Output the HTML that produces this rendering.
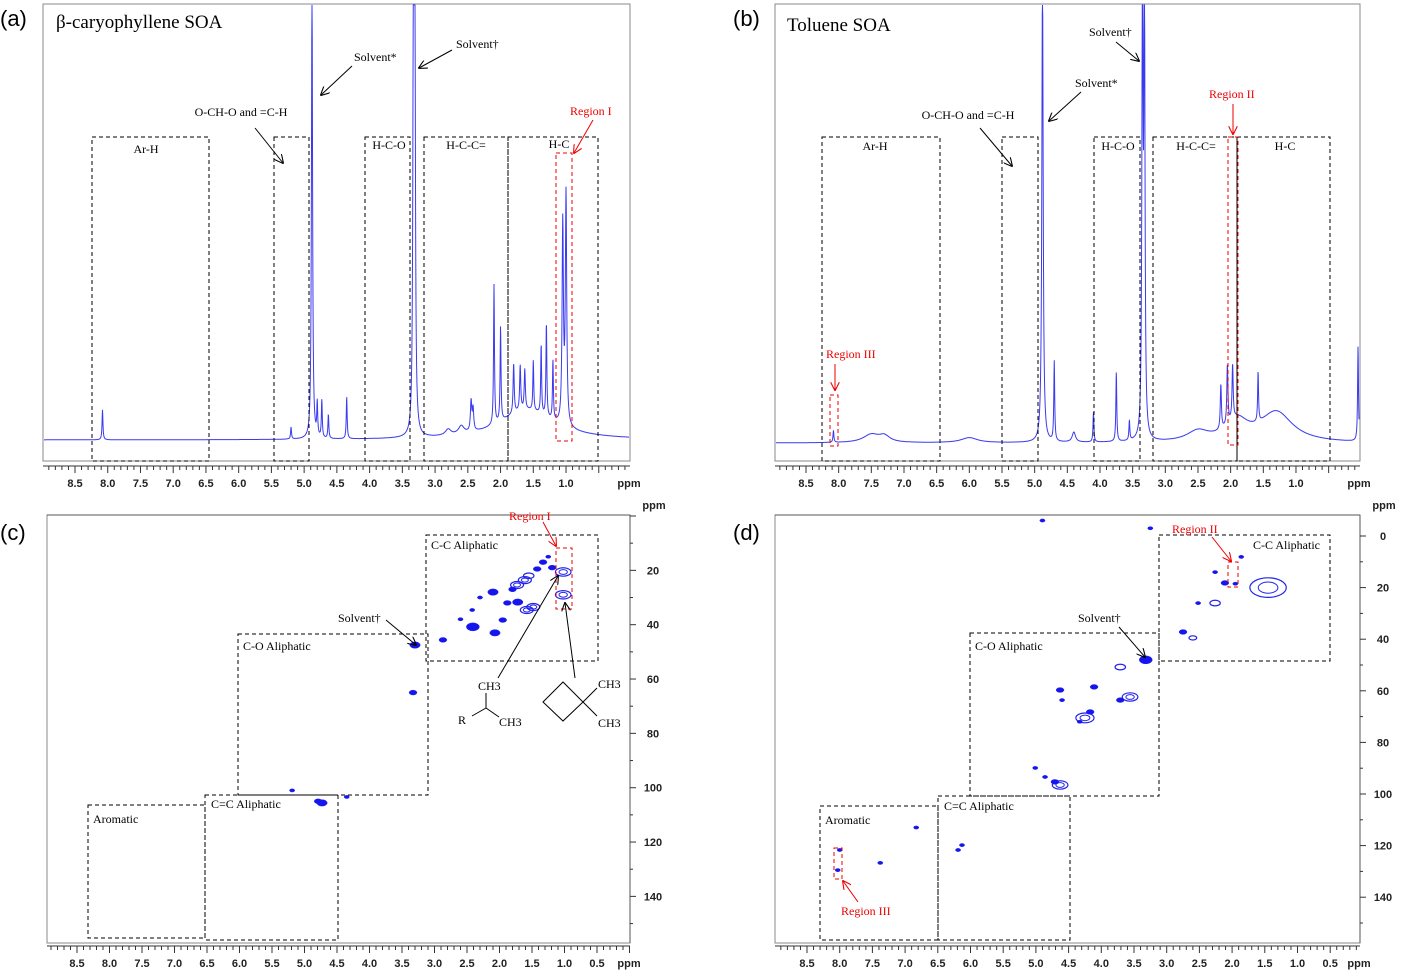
<!DOCTYPE html>
<html><head><meta charset="utf-8">
<style>
html,body{margin:0;padding:0;background:#fff;}
svg{display:block;}
.ser{font-family:"Liberation Serif",serif;font-size:12px;fill:#000;}
.ttl{font-family:"Liberation Serif",serif;font-size:19px;fill:#000;}
.tick{font-family:"Liberation Sans",sans-serif;font-size:11px;font-weight:bold;fill:#222;text-anchor:middle;}
.plab{font-family:"Liberation Sans",sans-serif;font-size:22px;fill:#000;}
.red{fill:#e00;}
</style></head>
<body>
<svg id="fig" width="1401" height="970" viewBox="0 0 1401 970" xmlns="http://www.w3.org/2000/svg">
<defs>
<marker id="arr" viewBox="0 0 10 10" refX="9" refY="5" markerWidth="9" markerHeight="9" orient="auto"><path d="M0,0 L10,5 L0,10" fill="none" stroke="#000" stroke-width="1.2"/></marker>
<marker id="arrR" viewBox="0 0 10 10" refX="9" refY="5" markerWidth="9" markerHeight="9" orient="auto"><path d="M0,0 L10,5 L0,10" fill="none" stroke="#e00" stroke-width="1.2"/></marker>
</defs>
<g id="layer"></g>
</svg>
<script>
// ---------- data ----------
const xTicks = [8.5,8.0,7.5,7.0,6.5,6.0,5.5,5.0,4.5,4.0,3.5,3.0,2.5,2.0,1.5,1.0];
const xTicks2D = [8.5,8.0,7.5,7.0,6.5,6.0,5.5,5.0,4.5,4.0,3.5,3.0,2.5,2.0,1.5,1.0,0.5];
const yTicksC = [20,40,60,80,100,120,140];
const yTicksD = [0,20,40,60,80,100,120,140];
// 1D peaks: ppm, height(px), halfwidth(ppm)
const peaksAppm = [8.08,5.2,4.88,4.8,4.73,4.63,4.35,3.33,3.31,2.45,2.42,2.1,2.0,1.8,1.7,1.63,1.5,1.38,1.3,1.2,1.05,1.0,1.6,2.8,2.6];
const peaksAh   = [30,12,460,33,38,24,42,460,460,30,22,140,95,50,45,40,50,70,95,60,200,230,30,6,8];
const peaksAw   = [0.008,0.008,0.01,0.008,0.008,0.008,0.008,0.01,0.01,0.012,0.012,0.008,0.008,0.01,0.01,0.01,0.008,0.008,0.008,0.008,0.012,0.012,0.5,0.05,0.05];
const peaksBppm = [4.88,3.35,3.32,4.7,4.1,3.75,2.05,1.97,2.15,1.58,1.3,2.5,7.5,7.3,6.0,4.4,3.55,0.05,1.9,8.08];
const peaksBh   = [470,470,470,80,30,70,60,55,45,50,30,10,8,6,5,10,20,95,20,12];
const peaksBw   = [0.012,0.01,0.01,0.008,0.008,0.008,0.01,0.01,0.01,0.008,0.3,0.2,0.15,0.1,0.15,0.03,0.008,0.008,0.2,0.008];
// 2D cross peaks: x ppm, y ppm(13C), radius px, filled(1)/contour(0)
const crossCx = [1.02,1.02,1.19,1.33,1.42,1.61,1.73,2.10,1.48,1.58,1.72,1.88,2.42,2.41,1.95,2.07,2.87,3.30,3.33,4.73,4.79,5.19,4.35,1.55,1.8,2.3,2.6,1.25];
const crossCy = [20.6,29,19,17,19.5,23.6,25.4,28,33.5,34.6,31.7,32,34.6,40.8,38.3,43,45.6,47.5,65,105.6,105,101,103.4,22,27,30,38,15];
const crossCr = [6,6,3,3,3,5,5,4,5,5,4,3,2,5,3,4,3,4,3,4,3,2,2,4,3,2,2,2];
const crossCf = [0,0,1,1,1,0,0,1,0,0,1,1,1,1,1,1,1,1,1,1,1,1,1,0,1,1,1,1];
const crossDx = [3.32,3.71,4.11,3.56,3.71,4.25,4.17,4.33,4.63,4.60,4.63,4.71,4.86,5.01,6.13,6.19,6.83,7.38,1.45,2.26,2.11,2.26,2.52,2.75,2.60,1.86,8.0,8.03,1.95,3.25,4.9];
const crossDy = [48,50.8,58.5,62.4,63.6,70.5,68.2,72,59.7,63.6,96.5,95.3,93.4,89.9,119.8,121.7,113,126.7,20,14,18.2,26,26,37.2,39.5,8.1,121.7,129.5,18.5,-3,-6];
const crossDr = [5,4,3,6,3,7,3,2,3,2,6,3,2,2,2,2,2,2,14,2,3,4,2,3,3,2,2,2,2,2,2];
const crossDf = [1,0,1,0,1,0,1,1,1,1,0,1,1,1,1,1,1,1,0,1,1,0,1,1,0,1,1,1,1,1,1];

// ---------- panel geometry ----------
const P = {
 a:{x0:75,ppmPx:65.47,left:43,right:630,top:4,bot:461,base:440,ax:466},
 b:{x0:806,ppmPx:65.33,left:775,right:1360,top:4,bot:461,base:443,ax:466},
 c:{x0:77,ppmPx:65,left:47,right:630,top:515,bot:943,y0:516,yPx:2.717,ax:946},
 d:{x0:807,ppmPx:65.4,left:775,right:1360,top:515,bot:943,y0:536,yPx:2.58,ax:946}
};
const NS='http://www.w3.org/2000/svg';
const layer=document.getElementById('layer');
function el(tag,attrs,parent){const e=document.createElementNS(NS,tag);for(const k in attrs)e.setAttribute(k,attrs[k]);(parent||layer).appendChild(e);return e;}
function xs(p,ppm){return p.x0+(8.5-ppm)*p.ppmPx;}
function ys(p,v){return p.y0+v*p.yPx;}
function txt(x,y,s,cls,parent,anchor){const t=el('text',{x:x,y:y,class:cls},parent);if(anchor)t.setAttribute('text-anchor',anchor);t.textContent=s;return t;}

function frameAxis(p,ticks,name){
  const g=el('g',{});
  
  
  el('rect',{x:p.left,y:p.top,width:p.right-p.left,height:p.bot-p.top,fill:'none',stroke:'#888','stroke-width':1},g);
  el('line',{x1:p.left,x2:p.right,y1:p.ax,y2:p.ax,stroke:'#333','stroke-width':1},g);
  for(let v=9.0;v>=-0.5;v-=0.1){const x=xs(p,v);if(x<p.left||x>p.right)continue;
    const major=Math.abs(v*2-Math.round(v*2))<0.01;
    el('line',{x1:x,x2:x,y1:p.ax,y2:p.ax+(major?7:4),stroke:'#333','stroke-width':1},g);}
  ticks.forEach(t=>{txt(xs(p,t),p.ax+21,t.toFixed(1),'tick',g);});
  txt(p.right-1,p.ax+21,'ppm','tick',g,'end');
}
function spectrum(p,pp,ph,pw,name){
  let d='';
  for(let x=p.left+1;x<=p.right-1;x+=0.25){
    const ppm=8.5-(x-p.x0)/p.ppmPx;
    let y=p.base;
    for(let i=0;i<pp.length;i++){const dx=ppm-pp[i];y-=ph[i]*pw[i]*pw[i]/(dx*dx+pw[i]*pw[i]);}
    y=Math.max(y,p.top+1);
    d+=(d?'L':'M')+x.toFixed(2)+','+y.toFixed(1);
  }
  const s=el('path',{d:d,fill:'none',stroke:'#3a3af0','stroke-width':1});
  
  
}
function dbox(x1,y1,x2,y2,red,name){
  const r=el('rect',{x:x1,y:y1,width:x2-x1,height:y2-y1,fill:'none',stroke:red?'#e00':'#000','stroke-width':1,'stroke-dasharray':'4,3'});
  
  
}
function arrow(x1,y1,x2,y2,red){el('line',{x1:x1,y1:y1,x2:x2,y2:y2,stroke:red?'#e00':'#000','stroke-width':1,'marker-end':red?'url(#arrR)':'url(#arr)'});}
function cross(p,cx,cy,cr,cf,name){
  for(let i=0;i<cx.length;i++){
    const c=el('ellipse',{cx:xs(p,cx[i]),cy:ys(p,cy[i]),rx:cr[i]*1.3,ry:cr[i]*(cf[i]?0.8:0.7),fill:cf[i]?'#1515ee':'none',stroke:'#2222ee','stroke-width':cf[i]?0.5:1.2});
    
    
    if(!cf[i]&&cr[i]>=5){el('ellipse',{cx:xs(p,cx[i]),cy:ys(p,cy[i]),rx:cr[i]*0.7,ry:cr[i]*0.4,fill:'none',stroke:'#2222ee','stroke-width':1});}
  }
}
function yAxis(p,ticks,name){
  const g=el('g',{});
  
  
  el('line',{x1:p.right,x2:p.right,y1:p.top,y2:p.bot,stroke:'#555'},g);
  for(let v=-10;v<=160;v+=10){const y=ys(p,v);if(y<p.top||y>p.bot)continue;
    el('line',{x1:p.right,x2:p.right+(v%20===0?6:3),y1:y,y2:y,stroke:'#333'},g);}
  ticks.forEach(t=>txt(p.right+23,ys(p,t)+4,String(t),'tick',g));
  txt(p.right+24,p.top-6,'ppm','tick',g);
}

// ---------- panel a ----------
frameAxis(P.a,xTicks,'panel-a');
spectrum(P.a,peaksAppm,peaksAh,peaksAw,'spectrum-a');
dbox(92,137,209,461,0,'box-ar-h');dbox(274,137,309,461,0,'box-och-o');dbox(365,137,410,461,0,'box-h-c-o');
dbox(424,137,508,461,0,'box-h-c-c');dbox(508,137,598,461,0,'box-h-c');dbox(556,153,572,441,1,'region-i-box');
txt(56,28,'β-caryophyllene SOA','ttl');
txt(146,153,'Ar-H','ser',null,'middle');txt(241,116,'O-CH-O and =C-H','ser',null,'middle');
txt(389,149,'H-C-O','ser',null,'middle');txt(466,149,'H-C-C=','ser',null,'middle');txt(559,148,'H-C','ser',null,'middle');
txt(354,61,'Solvent*','ser');txt(456,48,'Solvent†','ser');txt(570,115,'Region I','ser red');
arrow(255,128,283,163);arrow(352,66,321,95);arrow(452,50,419,68);arrow(593,120,574,153,1);

// ---------- panel b ----------
frameAxis(P.b,xTicks,'panel-b');
spectrum(P.b,peaksBppm,peaksBh,peaksBw,'spectrum-b');
dbox(822,137,940,461,0,'box-ar-h');dbox(1002,137,1038,461,0,'box-och-o');dbox(1094,137,1140,461,0,'box-h-c-o');
dbox(1153,137,1237,461,0,'box-h-c-c');dbox(1237,137,1330,461,0,'box-h-c');dbox(1228,137,1238,445,1,'region-ii-box');dbox(830,395,838,446,1,'region-iii-box');
txt(787,31,'Toluene SOA','ttl');
txt(875,150,'Ar-H','ser',null,'middle');txt(968,119,'O-CH-O and =C-H','ser',null,'middle');
txt(1118,150,'H-C-O','ser',null,'middle');txt(1196,150,'H-C-C=','ser',null,'middle');txt(1285,150,'H-C','ser',null,'middle');
txt(1075,87,'Solvent*','ser');txt(1089,36,'Solvent†','ser');txt(1209,98,'Region II','ser red');txt(826,358,'Region III','ser red');
arrow(980,128,1012,166);arrow(1081,92,1049,121);arrow(1116,42,1139,61);arrow(1233,104,1233,134,1);arrow(835,364,835,390,1);

// ---------- panel c ----------
frameAxis(P.c,xTicks2D,'panel-c');yAxis(P.c,yTicksC,'panel-c');
el('line',{x1:P.c.left,x2:P.c.right,y1:P.c.top,y2:P.c.top,stroke:'#555'});
cross(P.c,crossCx,crossCy,crossCr,crossCf,'panel-c');
dbox(426,535,598,661,0,'box-cc-aliphatic');dbox(238,634,428,795,0,'box-co-aliphatic');dbox(205,795,338,940,0,'box-c=c-aliphatic');dbox(88,805,205,938,0,'box-aromatic');dbox(556,548,572,609,1,'region-i-box-2d');
txt(431,549,'C-C Aliphatic','ser');txt(243,650,'C-O Aliphatic','ser');txt(211,808,'C=C Aliphatic','ser');txt(93,823,'Aromatic','ser');
txt(338,622,'Solvent†','ser');txt(509,520,'Region I','ser red');
arrow(386,620,416,645);arrow(543,522,556,546,1);arrow(498,678,558,576);arrow(575,678,565,603);
const st=el('g',{fill:'none',stroke:'#000','stroke-width':1});


el('path',{d:'M486,693 L486,708 M486,708 L472,716 M486,708 L499,717'},st);
txt(478,690,'CH3','ser');txt(458,724,'R','ser');txt(499,726,'CH3','ser');
const st2=el('g',{fill:'none',stroke:'#000','stroke-width':1});


el('path',{d:'M543,702 L563,682 L583,702 L563,721 Z M583,702 L597,688 M583,702 L597,716'},st2);
txt(598,688,'CH3','ser');txt(598,727,'CH3','ser');

// ---------- panel d ----------
frameAxis(P.d,xTicks2D,'panel-d');yAxis(P.d,yTicksD,'panel-d');
el('line',{x1:P.d.left,x2:P.d.right,y1:P.d.top,y2:P.d.top,stroke:'#555'});
cross(P.d,crossDx,crossDy,crossDr,crossDf,'panel-d');
dbox(1159,535,1330,661,0,'box-cc-aliphatic');dbox(970,633,1159,796,0,'box-co-aliphatic');dbox(938,796,1070,940,0,'box-c=c-aliphatic');dbox(820,806,938,940,0,'box-aromatic');
dbox(1228,562,1238,587,1,'region-ii-box-2d');dbox(834,848,842,879,1,'region-iii-box-2d');
txt(1253,549,'C-C Aliphatic','ser');txt(975,650,'C-O Aliphatic','ser');txt(944,810,'C=C Aliphatic','ser');txt(825,824,'Aromatic','ser');
txt(1078,622,'Solvent†','ser');txt(1172,533,'Region II','ser red');txt(841,915,'Region III','ser red');
arrow(1119,627,1145,657);arrow(1212,537,1231,561,1);arrow(858,902,843,881,1);

[['(a)',0,26],['(b)',733,26],['(c)',0,540],['(d)',733,540]].forEach(a=>{const t=txt(a[1],a[2],a[0],'plab');});
</script>
</body></html>
